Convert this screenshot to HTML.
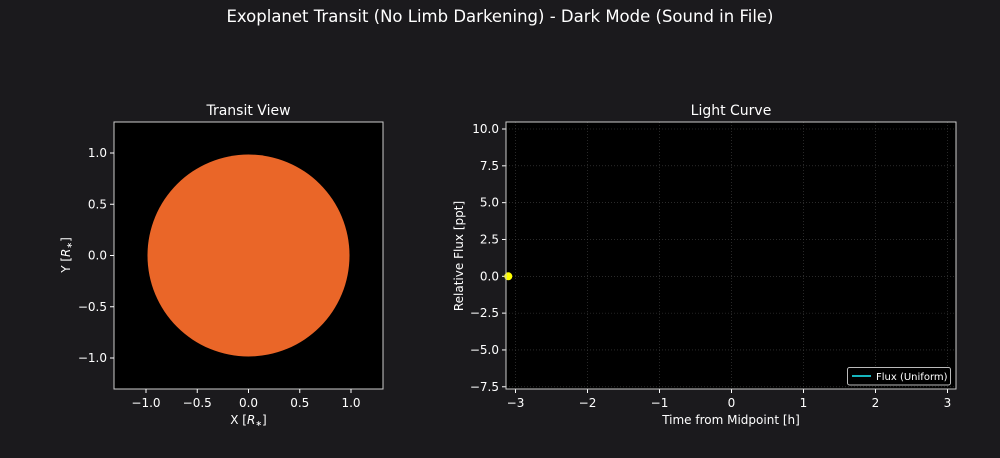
<!DOCTYPE html>
<html><head><meta charset="utf-8"><style>
html,body{margin:0;padding:0;background:#1b1a1d;overflow:hidden;width:1000px;height:458px;}
svg{display:block;}
svg text{font-family:"DejaVu Sans","Liberation Sans",sans-serif;fill:#fff;}
</style></head><body>
<svg width="1000" height="458" xmlns="http://www.w3.org/2000/svg">
<rect width="1000" height="458" fill="#1b1a1d"/>
<text x="500" y="22" font-size="16.5" text-anchor="middle">Exoplanet Transit (No Limb Darkening) - Dark Mode (Sound in File)</text>
<g id="left"></g>
<g id="right"></g>
</svg>
<script>
const NS="http://www.w3.org/2000/svg";
function mk(p,t,a,txt){const e=document.createElementNS(NS,t);for(const k in a)e.setAttribute(k,a[k]);if(txt!==undefined)e.textContent=txt;p.appendChild(e);return e;}
// Left panel data
const starRadius=[1.0];
const leftTicks=[-1.0,-0.5,0.0,0.5,1.0];
const leftTickLabels=["−1.0","−0.5","0.0","0.5","1.0"];
// Right panel data
const xTicks=[-3,-2,-1,0,1,2,3];
const xTickLabels=["−3","−2","−1","0","1","2","3"];
const yTicks=[-7.5,-5,-2.5,0,2.5,5,7.5,10];
const yTickLabels=["−7.5","−5.0","−2.5","0.0","2.5","5.0","7.5","10.0"];
const markerX=[-3.1];
const markerY=[0.0];

// left axes
const L=document.getElementById('left');
const lx=v=>248.5+v*102.5, ly=v=>255.5-v*102.5;
let r=mk(L,'rect',{x:114,y:122,width:269,height:267,fill:'#000'});

let c=mk(L,'circle',{cx:lx(0),cy:ly(0),r:starRadius[0]*101,fill:'#ea6628'});

let b=mk(L,'rect',{x:114,y:122,width:269,height:267,fill:'none',stroke:'#ccc','stroke-width':1});

leftTicks.forEach((v,i)=>{
  mk(L,'line',{x1:lx(v),x2:lx(v),y1:389,y2:393,stroke:'#fff'});
  let t=mk(L,'text',{x:lx(v),y:407,'font-size':12,'text-anchor':'middle'},leftTickLabels[i]);
  
  mk(L,'line',{x1:110,x2:114,y1:ly(v),y2:ly(v),stroke:'#fff'});
  let t2=mk(L,'text',{x:107,y:ly(v)+4,'font-size':12,'text-anchor':'end'},leftTickLabels[i]);
  
});
let lt=mk(L,'text',{x:248.5,y:115,'font-size':14,'text-anchor':'middle'},'Transit View');

let lxl=mk(L,'text',{x:248.5,y:424,'font-size':12,'text-anchor':'middle'});
lxl.innerHTML='X [<tspan font-style="italic">R</tspan><tspan font-size="8" dy="2">∗</tspan><tspan dy="-2">]</tspan>';

let lyl=mk(L,'text',{x:0,y:0,'font-size':12,'text-anchor':'middle',transform:'translate(70,255) rotate(-90)'});
lyl.innerHTML='Y [<tspan font-style="italic">R</tspan><tspan font-size="8" dy="2">∗</tspan><tspan dy="-2">]</tspan>';


// right axes
const R=document.getElementById('right');
const rx=v=>731.5+v*72, ry=v=>276.3-v*14.73;
let ra=mk(R,'rect',{x:506,y:122,width:450,height:267,fill:'#000'});

xTicks.forEach((v,i)=>{
  mk(R,'line',{x1:rx(v),x2:rx(v),y1:122,y2:389,stroke:'#444','stroke-width':0.6,'stroke-dasharray':'1,2'});
  mk(R,'line',{x1:rx(v),x2:rx(v),y1:389,y2:393,stroke:'#fff'});
  let t=mk(R,'text',{x:rx(v),y:407,'font-size':12,'text-anchor':'middle'},xTickLabels[i]);
  
});
yTicks.forEach((v,i)=>{
  mk(R,'line',{x1:506,x2:956,y1:ry(v),y2:ry(v),stroke:'#444','stroke-width':0.6,'stroke-dasharray':'1,2'});
  mk(R,'line',{x1:502,x2:506,y1:ry(v),y2:ry(v),stroke:'#fff'});
  let t=mk(R,'text',{x:499,y:ry(v)+4,'font-size':12,'text-anchor':'end'},yTickLabels[i]);
  
});
markerX.forEach((v,i)=>{
  let m=mk(R,'circle',{cx:rx(v),cy:ry(markerY[i]),r:4,fill:'#ffff00'});
  
});
let rb=mk(R,'rect',{x:506,y:122,width:450,height:267,fill:'none',stroke:'#ccc','stroke-width':1});

let lg=mk(R,'g',{});

mk(lg,'rect',{x:847.5,y:367.5,width:103,height:17.5,rx:2,fill:'#000',stroke:'#bbb'});
let ll=mk(lg,'line',{x1:852,x2:871,y1:376,y2:376,stroke:'#1ad1d9','stroke-width':1.8});

let lgt=mk(lg,'text',{x:876,y:380,'font-size':10},'Flux (Uniform)');

let rt=mk(R,'text',{x:731,y:115,'font-size':14,'text-anchor':'middle'},'Light Curve');

let rxl=mk(R,'text',{x:731,y:424,'font-size':12,'text-anchor':'middle'},'Time from Midpoint [h]');

let ryl=mk(R,'text',{x:0,y:0,'font-size':12,'text-anchor':'middle',transform:'translate(463,256) rotate(-90)'},'Relative Flux [ppt]');

</script>
</body></html>
